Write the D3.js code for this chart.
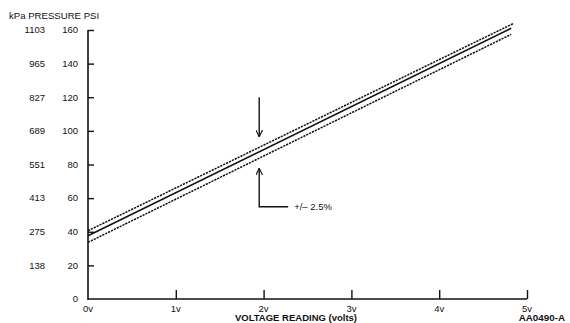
<!DOCTYPE html>
<html><head><meta charset="utf-8">
<script src="https://cdn.jsdelivr.net/npm/d3@7"></script>
<style>
html,body{margin:0;padding:0;background:#fff;}
svg{display:block;font-family:"Liberation Sans",Arial,Helvetica,sans-serif;}
</style></head>
<body><svg id="chart" width="570" height="323"></svg>
<script>
// ---- data ----
const psiTicks = [0, 20, 40, 60, 80, 100, 120, 140, 160];
const kpaLabels = ["", "138", "275", "413", "551", "689", "827", "965", "1103"];
const voltTicks = [0, 1, 2, 3, 4, 5];
const voltLabels = ["0v", "1v", "2v", "3v", "4v", "5v"];
const voltsNominal = [0, 4.82];
const psiNominal = [37.6, 161];
const voltsHigh = [0, 4.85];
const psiHigh = [40.6, 164];
const voltsLow = [0, 4.82];
const psiLow = [33.7, 157.4];
const toleranceLabel = "+/\u2013 2.5%";
const annotation = {volt: 1.95, downFrom: 120, downTo: 96.5, upTo: 77.7, upFrom: 54.9, leaderTo: 2.28};

// ---- layout ----
const svg = d3.select("#chart");
const x = d3.scaleLinear().domain([0, 5]).range([88, 527]);
const y = d3.scaleLinear().domain([0, 160]).range([299, 30]);
const ink = "#111";
const fs = 9.5;

// axes lines
svg.append("line").attr("x1", x(0)).attr("x2", x(0)).attr("y1", y(160)).attr("y2", y(0) + 1)
  .attr("stroke", ink).attr("stroke-width", 1.6);
svg.append("line").attr("x1", x(0)).attr("x2", x(5)).attr("y1", y(0)).attr("y2", y(0))
  .attr("stroke", ink).attr("stroke-width", 1.6);

// y ticks (right-pointing)
const yAxis = d3.axisRight(y).tickValues(psiTicks.filter(d => d > 0)).tickSize(6).tickFormat("");
const gy = svg.append("g").attr("transform", `translate(${x(0)},0)`).call(yAxis);
gy.select(".domain").remove();
gy.selectAll(".tick line").attr("stroke", ink).attr("stroke-width", 1.4);

// psi labels
svg.append("g").selectAll("text").data(psiTicks).join("text")
  .attr("x", 78).attr("y", d => y(d)).attr("dy", "0.35em")
  .attr("text-anchor", "end").attr("font-size", fs).attr("fill", ink)
  .text(d => d);
// kPa labels
svg.append("g").selectAll("text").data(psiTicks).join("text")
  .attr("x", 45).attr("y", d => y(d)).attr("dy", "0.35em")
  .attr("text-anchor", "end").attr("font-size", fs).attr("fill", ink)
  .text((d, i) => kpaLabels[i]);

// x ticks (upward)
const xAxis = d3.axisTop(x).tickValues(voltTicks.filter(d => d > 0)).tickSize(9).tickFormat("");
const gx = svg.append("g").attr("transform", `translate(0,${y(0)})`).call(xAxis);
gx.select(".domain").remove();
gx.selectAll(".tick line").attr("stroke", ink).attr("stroke-width", 1.4);
svg.append("g").selectAll("text").data(voltTicks).join("text")
  .attr("x", d => x(d)).attr("y", 308.5).attr("dy", "0.35em")
  .attr("text-anchor", "middle").attr("font-size", fs).attr("fill", ink)
  .text((d, i) => voltLabels[i]);

// titles
svg.append("text").attr("x", 9).attr("y", 16).attr("dy", "0.35em")
  .attr("font-size", 9.6).attr("fill", ink).text("kPa PRESSURE PSI");
svg.append("text").attr("x", 296).attr("y", 318).attr("dy", "0.35em")
  .attr("text-anchor", "middle").attr("font-size", 9.5).attr("font-weight", "bold").attr("fill", ink)
  .text("VOLTAGE READING (volts)");
svg.append("text").attr("x", 565).attr("y", 318).attr("dy", "0.35em")
  .attr("text-anchor", "end").attr("font-size", 9.8).attr("font-weight", "bold").attr("fill", ink)
  .text("AA0490-A");

// lines
const line = d3.line().x(d => x(d[0])).y(d => y(d[1]));
const mk = (vs, ps) => vs.map((v, i) => [v, ps[i]]);
svg.append("path").datum(mk(voltsHigh, psiHigh)).attr("d", line)
  .attr("fill", "none").attr("stroke", ink).attr("stroke-width", 1.5).attr("stroke-dasharray", "2.2,1");
svg.append("path").datum(mk(voltsLow, psiLow)).attr("d", line)
  .attr("fill", "none").attr("stroke", ink).attr("stroke-width", 1.5).attr("stroke-dasharray", "2.2,1");
svg.append("path").datum(mk(voltsNominal, psiNominal)).attr("d", line)
  .attr("fill", "none").attr("stroke", ink).attr("stroke-width", 1.6);

// annotation arrows
const defs = svg.append("defs");
defs.append("marker").attr("id", "ah").attr("viewBox", "0 0 10 10").attr("refX", 10).attr("refY", 5)
  .attr("markerWidth", 7).attr("markerHeight", 7).attr("markerUnits", "userSpaceOnUse").attr("orient", "auto")
  .append("path").attr("d", "M0,0 L10,5 L0,10").attr("fill", "none").attr("stroke", ink).attr("stroke-width", 1.6);
const ax = x(annotation.volt);
svg.append("line").attr("x1", ax).attr("x2", ax).attr("y1", y(annotation.downFrom)).attr("y2", y(annotation.downTo))
  .attr("stroke", ink).attr("stroke-width", 1.4).attr("marker-end", "url(#ah)");
svg.append("path")
  .attr("d", `M${x(annotation.leaderTo)},${y(annotation.upFrom)} L${ax},${y(annotation.upFrom)} L${ax},${y(annotation.upTo)}`)
  .attr("fill", "none").attr("stroke", ink).attr("stroke-width", 1.4).attr("marker-end", "url(#ah)");
svg.append("text").attr("x", x(annotation.leaderTo) + 6).attr("y", y(annotation.upFrom)).attr("dy", "0.35em")
  .attr("font-size", fs).attr("fill", ink).text(toleranceLabel);
</script></body></html>
